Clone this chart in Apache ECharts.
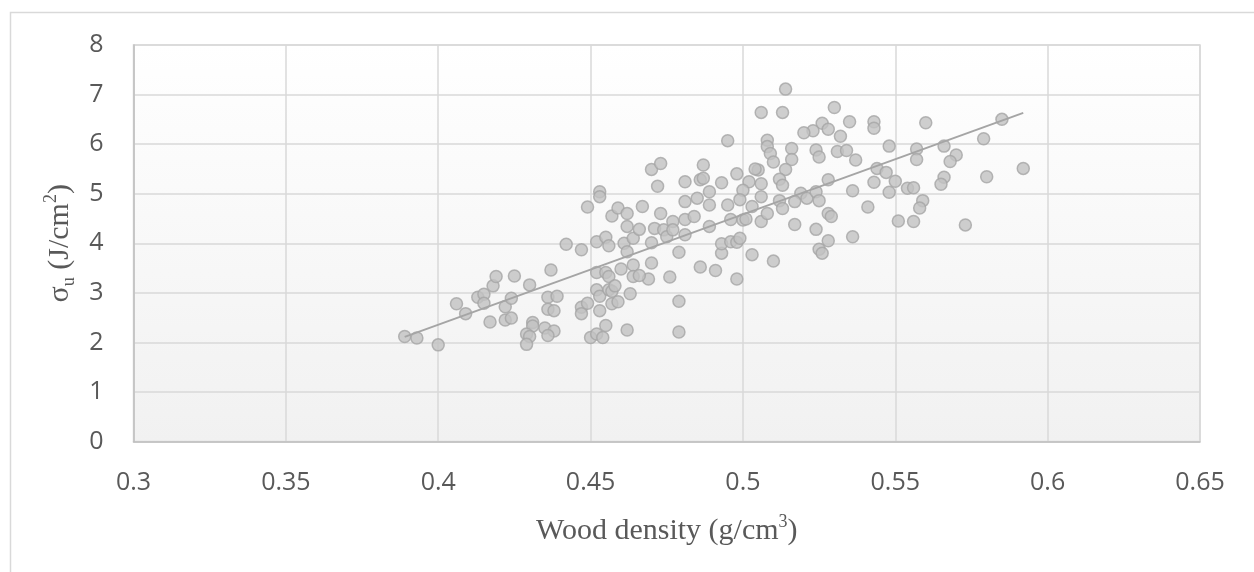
<!DOCTYPE html>
<html>
<head>
<meta charset="utf-8">
<script src="https://cdn.jsdelivr.net/npm/echarts@6/dist/echarts.min.js"></script>
<style>
html,body{margin:0;padding:0;background:#fff;}
#chart{width:1254px;height:572px;}
</style>
</head>
<body>
<div id="chart"></div>
<script>
// Wood density (g/cm3)
const density = [
0.389,0.393,0.400,0.406,0.409,0.413,0.415,0.415,0.418,0.419,0.417,0.422,0.424,0.422,0.424,0.425,0.430,0.431,0.431,0.429,0.430,0.429,0.435,0.438,0.436,0.436,0.439,0.436,0.438,0.437,0.442,0.447,0.447,0.447,0.449,0.449,
0.453,0.453,0.457,0.459,0.462,0.452,0.455,0.456,0.461,0.462,0.452,0.455,0.456,0.460,0.452,0.453,0.456,0.457,0.458,0.457,0.453,0.455,0.450,0.452,0.454,0.462,0.462,0.463,0.459,
0.464,0.466,0.467,0.471,0.470,0.473,0.474,0.475,0.477,0.477,0.481,0.481,0.484,0.481,0.485,0.489,0.489,0.489,0.481,0.486,0.487,0.487,0.493,0.495,0.496,0.500,0.501,0.506,0.508,0.503,0.506,0.502,0.500,0.498,0.505,0.504,0.495,0.470,0.473,0.472,
0.479,0.486,0.491,0.493,0.493,0.496,0.498,0.499,0.476,0.470,0.469,0.464,0.464,0.466,0.479,0.479,0.503,0.498,0.510,0.499,0.506,
0.514,0.506,0.513,0.530,0.535,0.526,0.528,0.523,0.520,0.532,0.508,0.508,0.509,0.510,0.516,0.516,0.514,0.512,0.513,0.524,0.525,0.531,0.534,0.537,0.528,0.519,0.517,0.521,0.524,0.525,0.512,0.513,0.536,0.517,0.524,0.528,0.529,0.528,0.525,0.526,0.536,
0.543,0.543,0.548,0.544,0.547,0.543,0.550,0.554,0.556,0.548,0.541,0.559,0.558,0.551,0.556,0.560,0.557,0.557,0.566,0.570,0.568,0.566,0.565,0.585,0.579,0.580,0.592,0.573
];
// sigma_u (J/cm2)
const strength = [
2.12,2.09,1.95,2.78,2.58,2.91,2.97,2.79,3.14,3.33,2.41,2.72,2.89,2.45,2.49,3.34,3.16,2.40,2.33,2.17,2.12,1.96,2.29,2.23,2.14,2.91,2.93,2.67,2.64,3.46,3.98,3.87,2.71,2.58,4.73,2.79,
5.04,4.94,4.55,4.71,4.60,4.03,4.12,3.95,4.00,3.83,3.41,3.41,3.33,3.48,3.06,2.93,3.06,3.03,3.14,2.78,2.64,2.34,2.10,2.17,2.10,2.25,4.34,2.98,2.82,
4.10,4.28,4.74,4.30,4.01,4.60,4.27,4.13,4.44,4.27,4.17,4.48,4.54,4.84,4.91,4.34,4.77,5.04,5.24,5.28,5.31,5.58,5.22,4.77,4.48,4.47,4.49,4.44,4.60,4.74,4.94,5.24,5.07,5.40,5.48,5.50,6.07,5.49,5.61,5.15,
3.82,3.52,3.45,3.80,3.99,4.03,4.02,4.10,3.32,3.60,3.28,3.56,3.33,3.35,2.83,2.21,3.77,3.28,3.64,4.88,5.20,
7.11,6.64,6.64,6.74,6.45,6.42,6.30,6.27,6.23,6.16,6.08,5.95,5.81,5.64,5.91,5.69,5.49,5.29,5.17,5.88,5.74,5.85,5.87,5.68,5.28,5.01,4.84,4.91,5.04,4.86,4.86,4.70,5.06,4.38,4.28,4.60,4.54,4.05,3.88,3.80,4.13,
6.45,6.32,5.96,5.51,5.43,5.23,5.25,5.11,5.12,5.03,4.73,4.86,4.71,4.45,4.44,6.43,5.90,5.69,5.96,5.78,5.65,5.33,5.19,6.50,6.11,5.34,5.51,4.37
];
// Linear trendline end points
const trendX = [0.389, 0.592];
const trendY = [2.11, 6.63];

const xTicks = {min: 0.3, max: 0.65, step: 0.05};
const yTicks = {min: 0, max: 8, step: 1};

const chart = echarts.init(document.getElementById('chart'), null, {renderer: 'canvas'});
const labelFont = "'Open Sans', 'Liberation Sans', sans-serif";
const serif = "'Liberation Serif', 'DejaVu Serif', serif";
const nameRich = {
  t: {fontFamily: serif, fontSize: 30, color: '#595959', lineHeight: 36},
  sup: {fontFamily: serif, fontSize: 18, color: '#595959', lineHeight: 20, verticalAlign: 'top'},
  sub: {fontFamily: serif, fontSize: 18, color: '#595959', lineHeight: 18, verticalAlign: 'bottom'}
};

chart.setOption({
  animation: false,
  backgroundColor: '#ffffff',
  graphic: [{
    type: 'rect', silent: true, z: -10,
    shape: {x: 10.5, y: 12.5, width: 1400, height: 800},
    style: {fill: 'none', stroke: '#D9D9D9', lineWidth: 1.5}
  }],
  grid: {
    left: 133.5, right: 54, top: 45, bottom: 130.5,
    show: true,
    backgroundColor: new echarts.graphic.LinearGradient(0, 0, 0, 1, [
      {offset: 0, color: '#FFFFFF'}, {offset: 1, color: '#F1F1F1'}
    ]),
    borderColor: '#D9D9D9', borderWidth: 1.5
  },
  xAxis: {
    type: 'value', min: xTicks.min, max: xTicks.max, interval: xTicks.step,
    name: '{t|Wood density (g/cm}{sup|3}{t|)}',
    nameLocation: 'middle', nameGap: 72,
    nameTextStyle: {rich: nameRich},
    axisLine: {show: true, lineStyle: {color: '#BFBFBF', width: 1.5}},
    axisTick: {show: false},
    axisLabel: {
      margin: 29, color: '#595959', fontSize: 25, fontFamily: labelFont,
      formatter: v => String(Math.round(v * 100) / 100)
    },
    splitLine: {show: true, lineStyle: {color: '#D9D9D9', width: 1.5}}
  },
  yAxis: {
    type: 'value', min: yTicks.min, max: yTicks.max, interval: yTicks.step,
    name: '{t|σ}{sub|u}{t| (J/cm}{sup|2}{t|)}',
    nameLocation: 'middle', nameGap: 54, nameRotate: 90,
    nameTextStyle: {rich: nameRich},
    axisLine: {show: true, lineStyle: {color: '#BFBFBF', width: 1.5}},
    axisTick: {show: false},
    axisLabel: {margin: 30, color: '#595959', fontSize: 25, fontFamily: labelFont},
    splitLine: {show: true, lineStyle: {color: '#D9D9D9', width: 1.5}}
  },
  series: [{
    type: 'scatter',
    data: density.map((x, i) => [x, strength[i]]),
    symbol: 'circle', symbolSize: 12,
    itemStyle: {color: '#C2C2C2', borderColor: '#A5A5A5', borderWidth: 1.5},
    z: 2
  }, {
    type: 'line',
    data: trendX.map((x, i) => [x, trendY[i]]),
    symbol: 'none',
    lineStyle: {color: '#A5A5A5', width: 2},
    z: 3
  }]
});
</script>
</body>
</html>
